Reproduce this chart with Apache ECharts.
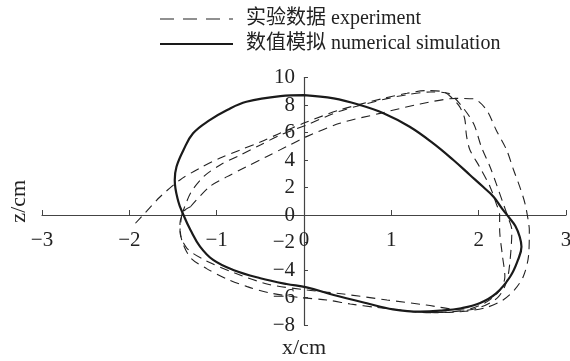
<!DOCTYPE html>
<html>
<head>
<meta charset="utf-8">
<script src="https://cdn.jsdelivr.net/npm/echarts@6/dist/echarts.min.js"></script>
<style>
  html, body { margin: 0; padding: 0; background: #fff; }
  #main { width: 570px; height: 361px; }
</style>
</head>
<body>
<div id="main"></div>
<script>
// axis ranges (cm)
var xRange = [-3, 3];
var zRange = [-8, 10];

var legendNames = ["实验数据 experiment", "数值模拟 numerical simulation"];

// numerical simulation loop, [x, z]
var simulation = [
  [0, 8.72], [0.34, 8.48], [0.64, 8.0], [0.91, 7.4], [1.21, 6.42], [1.48, 5.21],
  [1.71, 4.0], [1.90, 2.91], [2.05, 2.05], [2.17, 1.33], [2.27, 0.45], [2.35, -0.2],
  [2.42, -0.8], [2.47, -1.58], [2.49, -2.3], [2.45, -3.27], [2.36, -4.49], [2.20, -5.7],
  [2.01, -6.42], [1.80, -6.78], [1.56, -6.96], [1.33, -7.03], [1.02, -6.86], [0.72, -6.42],
  [0.34, -5.82], [0.03, -5.26], [-0.20, -5.02], [-0.50, -4.6], [-0.81, -4.0], [-1.04, -3.27],
  [-1.19, -2.3], [-1.30, -1.09], [-1.38, 0.0], [-1.44, 1.0], [-1.48, 2.55], [-1.46, 3.51],
  [-1.38, 4.73], [-1.27, 5.94], [-1.08, 6.9], [-0.88, 7.64], [-0.66, 8.24], [-0.27, 8.65],
  [0, 8.72]
];

// experiment, first cycle (starts from the far left)
var cycle1 = [
  [-1.93, -0.6], [-1.82, 0.15], [-1.65, 1.31], [-1.42, 2.55], [-1.19, 3.42], [-0.96, 4.15],
  [-0.73, 4.73], [-0.50, 5.31], [-0.27, 5.96], [0.03, 6.76], [0.41, 7.64], [0.91, 8.48],
  [1.18, 8.85], [1.40, 9.05], [1.59, 8.97], [1.68, 8.6], [1.78, 7.9], [1.84, 7.0],
  [1.86, 5.8], [1.90, 4.73], [2.01, 3.51], [2.13, 2.06], [2.20, 0.85], [2.24, 0.0],
  [2.24, -1.0], [2.27, -2.86], [2.30, -4.49], [2.24, -5.5], [2.07, -6.4], [1.82, -6.91],
  [1.40, -6.55], [0.95, -6.18], [0.45, -5.75], [0.03, -5.45], [-0.40, -5.05], [-0.80, -4.2],
  [-1.14, -3.27], [-1.34, -2.42], [-1.42, -1.2], [-1.40, 0.0]
];

// experiment, second cycle
var cycle2 = [
  [-1.40, 0.0], [-1.30, 1.58], [-1.15, 2.79], [-0.96, 3.64], [-0.73, 4.36], [-0.50, 5.09],
  [-0.27, 5.82], [0.03, 6.55], [0.41, 7.55], [0.91, 8.4], [1.18, 8.75], [1.45, 8.95],
  [1.65, 8.85], [1.78, 8.12], [1.94, 6.67], [2.03, 4.97], [2.13, 3.51], [2.20, 2.3],
  [2.28, 0.85], [2.35, -0.4], [2.38, -1.09], [2.36, -3.27], [2.32, -4.85], [2.22, -5.99],
  [2.0, -6.75], [1.71, -7.03], [1.40, -7.1], [1.10, -6.91], [0.83, -6.72], [0.53, -6.47],
  [0.26, -6.18], [-0.05, -6.0], [-0.39, -5.67], [-0.65, -5.21], [-0.88, -4.66], [-1.12, -3.88],
  [-1.30, -3.1], [-1.40, -1.82], [-1.42, -0.6], [-1.37, 0.3], [-1.30, 0.6]
];

// experiment, third cycle
var cycle3 = [
  [-1.30, 0.6], [-1.08, 2.06], [-0.88, 2.79], [-0.66, 3.51], [-0.43, 4.24], [-0.20, 4.97],
  [0.03, 5.70], [0.41, 6.67], [0.87, 7.39], [1.33, 8.07], [1.75, 8.48], [1.94, 8.45],
  [2.09, 7.64], [2.20, 6.18], [2.32, 4.73], [2.40, 3.27], [2.47, 2.06], [2.53, 0.85],
  [2.57, -0.5], [2.58, -1.09], [2.57, -3.03], [2.51, -4.49], [2.41, -5.45], [2.28, -6.18],
  [2.10, -6.7], [1.85, -7.0], [1.5, -7.1], [1.2, -7.0]
];

var serif = "'Liberation Serif', 'Noto Sans CJK SC', serif";
var minus = function (v) { return String(v).replace('-', '\u2212'); };

var myChart = echarts.init(document.getElementById('main'));
var option;

var dashed = { color: '#222', width: 1.1, type: [9, 6] };

function expSeries(data) {
  return {
    name: legendNames[0],
    type: 'line',
    data: data,
    symbol: 'none',
    smooth: 0.3,
    lineStyle: dashed,
    itemStyle: { color: '#222' },
    z: 2
  };
}

// grid is 42..566 wide and 77.5..325 tall; axes are shifted onto x=0 / z=0
option = {
  animation: false,
  backgroundColor: '#fff',
  textStyle: { fontFamily: serif, color: '#222' },
  legend: {
    orient: 'vertical',
    left: 159,
    top: 9,
    padding: 0,
    itemWidth: 73,
    itemHeight: 14,
    itemGap: 5,
    itemStyle: { opacity: 0 },
    textStyle: { fontFamily: serif, fontSize: 20, color: '#222', padding: [0, 0, 0, 8] },
    data: [
      { name: legendNames[0], lineStyle: { type: [14, 9], width: 1.2 } },
      { name: legendNames[1] }
    ]
  },
  grid: { left: 42, right: 4, top: 77.5, bottom: 36, containLabel: false, outerBoundsMode: 'none' },
  xAxis: {
    type: 'value',
    position: 'bottom',
    offset: -110,
    min: xRange[0],
    max: xRange[1],
    interval: 1,
    name: 'x/cm',
    nameLocation: 'middle',
    nameGap: 122,
    nameTextStyle: { fontFamily: serif, fontSize: 22, color: '#222' },
    axisLine: { onZero: false, lineStyle: { color: '#444', width: 1.2 } },
    axisTick: { inside: true, length: 5, lineStyle: { color: '#444' } },
    axisLabel: { fontFamily: serif, fontSize: 21, color: '#222', margin: 15, formatter: minus },
    splitLine: { show: false }
  },
  yAxis: {
    type: 'value',
    position: 'left',
    offset: -262,
    min: zRange[0],
    max: zRange[1],
    interval: 2,
    name: 'z/cm',
    nameLocation: 'middle',
    nameGap: 274,
    nameRotate: 90,
    nameTextStyle: { fontFamily: serif, fontSize: 22, color: '#222' },
    axisLine: { onZero: false, lineStyle: { color: '#444', width: 1.2 } },
    axisTick: { inside: true, length: 4, lineStyle: { color: '#444' } },
    axisLabel: { fontFamily: serif, fontSize: 21, color: '#222', margin: 9, formatter: minus },
    splitLine: { show: false }
  },
  series: [
    expSeries(cycle1),
    expSeries(cycle2),
    expSeries(cycle3),
    {
      name: legendNames[1],
      type: 'line',
      data: simulation,
      symbol: 'none',
      smooth: 0.4,
      lineStyle: { color: '#1a1a1a', width: 2.2, type: 'solid' },
      itemStyle: { color: '#1a1a1a' },
      z: 3
    }
  ]
};

option && myChart.setOption(option);
</script>
</body>
</html>
